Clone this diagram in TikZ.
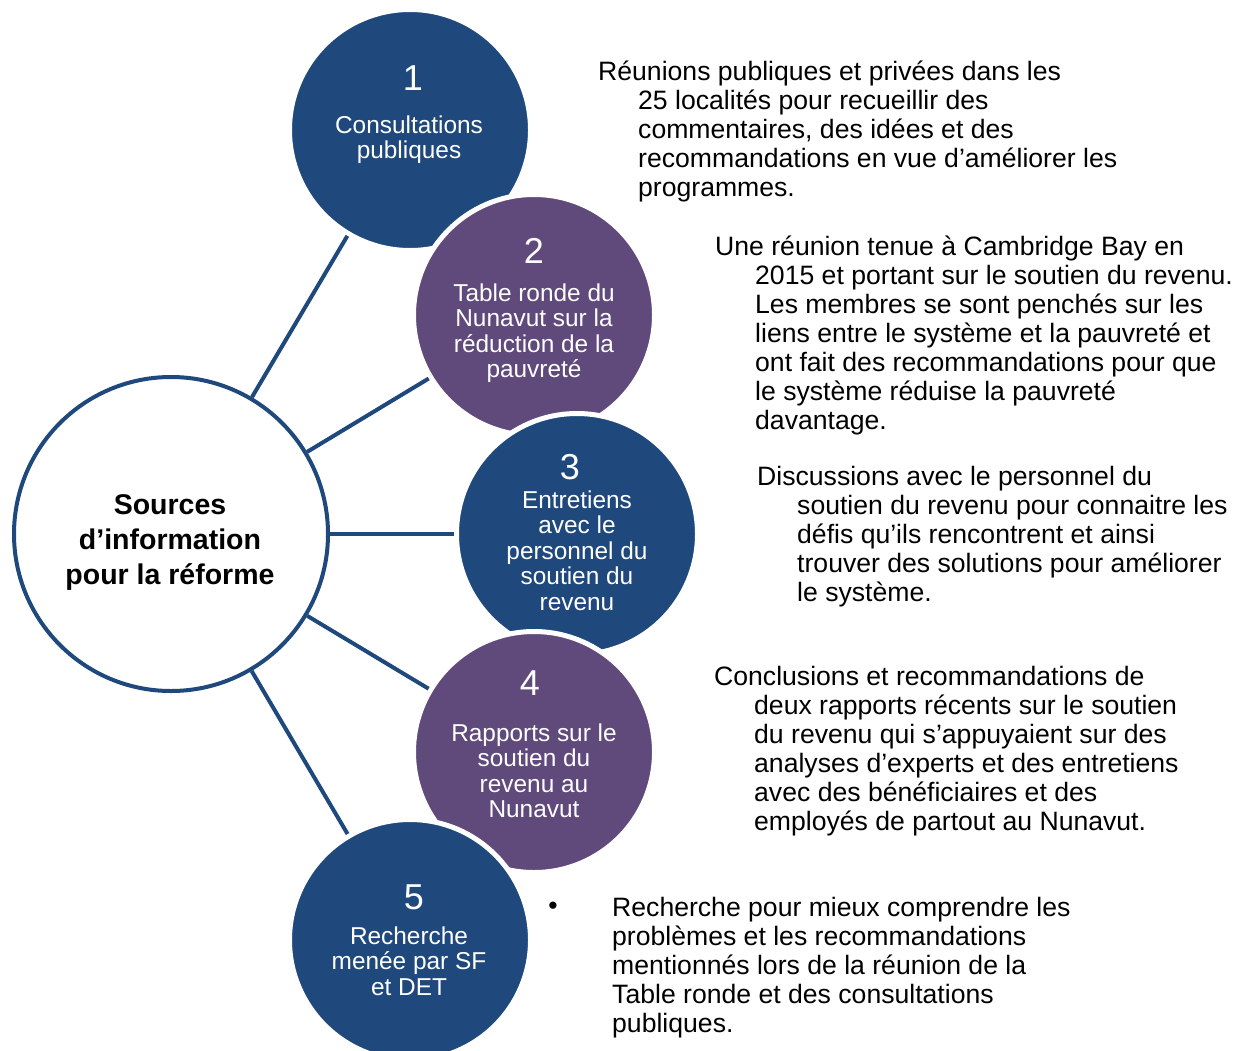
\documentclass[tikz,border=0pt]{standalone}
\usepackage{fontspec}
\setmainfont{Liberation Sans}
\definecolor{cblue}{HTML}{1F497D}
\definecolor{cpurple}{HTML}{604A7B}
\newcommand\hpara[2]{\parbox[t]{640pt}{\hangindent=#1\hangafter=1\relax #2}}
\begin{document}
\begin{tikzpicture}[x=1pt,y=-1pt,
  src/.style={circle, draw=white, line width=5pt, minimum size=241pt, inner sep=0pt},
  hub/.style={circle, draw=cblue, fill=white, line width=4pt, minimum size=314pt, inner sep=0pt},
  num/.style={text=white, font=\fontsize{36}{40}\selectfont, anchor=base, inner sep=0pt},
  lab/.style={text=white, font=\fontsize{24.4}{25.4}\selectfont, align=center, anchor=base, inner sep=0pt},
  hubtext/.style={font=\bfseries\fontsize{28.5}{35}\selectfont, align=center, anchor=base, inner sep=0pt},
  desc/.style={anchor=base west, inner sep=0pt, font=\fontsize{26.6}{29}\selectfont},
  link/.style={draw=cblue, line width=4pt}]
\useasboundingbox (0,0) rectangle (1242,1050);
\begin{scope}
\clip (0,0) rectangle (1242,1050);
% hub
\node[hub] (c) at (171,534) {};
\node[hubtext] (ct) at (170,584) {Sources\\d’information\\pour la réforme};
% source circles
\node[src, fill=cblue] (s1) at (410,130) {};
\node[src, fill=cpurple] (s2) at (534,315) {};
\node[src, fill=cblue] (s3) at (577,534) {};
\node[src, fill=cpurple] (s4) at (534,752) {};
\node[src, fill=cblue] (s5) at (410,940) {};
% connectors
\draw[link] (c) -- (s1);
\draw[link] (c) -- (s2);
\draw[link] (c) -- (s3);
\draw[link] (c) -- (s4);
\draw[link] (c) -- (s5);
% numbers
\node[num] (n1) at (413,90) {1};
\node[num] (n2) at (534,263) {2};
\node[num] (n3) at (570,479) {3};
\node[num] (n4) at (530,695) {4};
\node[num] (n5) at (414,909) {5};
% labels (anchor = baseline of last line)
\node[lab] (l1) at (409,158.9) {Consultations\\publiques};
\node[lab] (l2) at (534,377.7) {Table ronde du\\Nunavut sur la\\réduction de la\\pauvreté};
\node[lab] (l3) at (577,610.1) {Entretiens\\avec le\\personnel du\\soutien du\\revenu};
\node[lab] (l4) at (534,817.7) {Rapports sur le\\soutien du\\revenu au\\Nunavut};
\node[lab] (l5) at (409,995.3) {Recherche\\menée par SF\\et DET};
% descriptions
\node[desc] (d1) at (598,80) {\hpara{40pt}{Réunions publiques et privées dans les\newline 25 localités pour recueillir des\newline commentaires, des idées et des\newline recommandations en vue d’améliorer les\newline programmes.}};
\node[desc] (d2) at (715,255) {\hpara{40pt}{Une réunion tenue à Cambridge Bay en\newline 2015 et portant sur le soutien du revenu.\newline Les membres se sont penchés sur les\newline liens entre le système et la pauvreté et\newline ont fait des recommandations pour que\newline le système réduise la pauvreté\newline davantage.}};
\node[desc] (d3) at (757,485) {\hpara{40pt}{Discussions avec le personnel du\newline soutien du revenu pour connaitre les\newline défis qu’ils rencontrent et ainsi\newline trouver des solutions pour améliorer\newline le système.}};
\node[desc] (d4) at (714,685) {\hpara{40pt}{Conclusions et recommandations de\newline deux rapports récents sur le soutien\newline du revenu qui s’appuyaient sur des\newline analyses d’experts et des entretiens\newline avec des bénéficiaires et des\newline employés de partout au Nunavut.}};
\node[desc, anchor=center] (b5) at (553,908) {•};
\node[desc] (d5) at (612,916) {\hpara{0pt}{Recherche pour mieux comprendre les\newline problèmes et les recommandations\newline mentionnés lors de la réunion de la\newline Table ronde et des consultations\newline publiques.}};
\end{scope}
\end{tikzpicture}
\end{document}
